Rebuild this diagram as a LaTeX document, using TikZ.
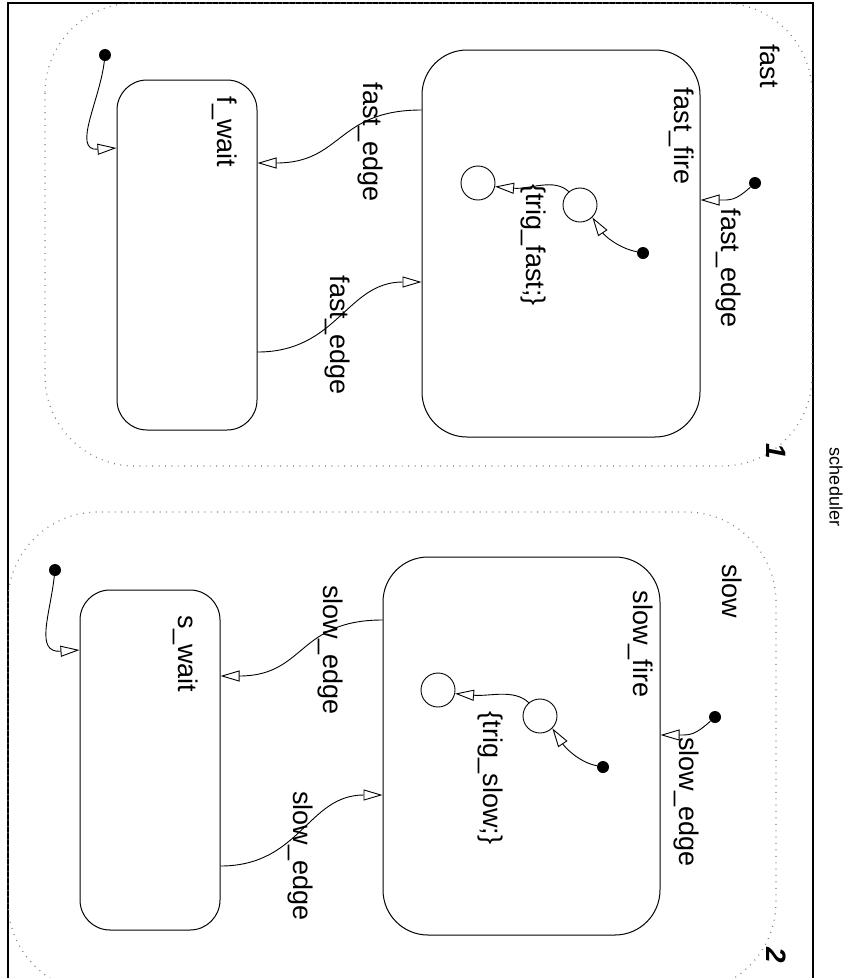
\documentclass[tikz,border=0pt]{standalone}
\usepackage{fontspec}
\setmainfont{Liberation Sans}
\usetikzlibrary{arrows.meta,calc}
\begin{document}
\begin{tikzpicture}[x=1pt,y=-1pt,
  frame/.style={line width=1.5pt},
  region/.style={draw=gray, line width=1.2pt, dash pattern=on 0.9pt off 5.5pt, rounded corners=90pt},
  statebox/.style={draw, line width=1pt, rectangle, inner sep=0pt},
  lbl/.style={rotate=-90, font=\fontsize{27}{32}\selectfont, inner sep=0pt},
  smallcirc/.style={draw, circle, line width=0.9pt, minimum size=34pt, inner sep=0pt},
  initdot/.style={fill, circle, minimum size=12pt, inner sep=0pt},
  conn/.style={line width=0.9pt, -{Triangle[open, length=19pt, width=11pt, line width=0.9pt]}},
  ]
\useasboundingbox (0,0) rectangle (850,978);
\clip (0,0) rectangle (850,978);
\fill[white] (0,0) rectangle (850,978);

% outer frame
\draw[frame] (8,1000) -- (8,3) -- (813,3) -- (813,1000);
\node[rotate=-90, font=\fontsize{18}{20}\selectfont, inner sep=0pt] (sched) at (836,487) {scheduler};

% regions
\draw[region] (45,3) rectangle (812,466);
\draw[region] (8,512) rectangle (776,992);
\node[rotate=-90, font=\bfseries\itshape\fontsize{28}{30}\selectfont, inner sep=0pt] (n1) at (776,451) {1};
\node[rotate=-90, font=\bfseries\itshape\fontsize{28}{30}\selectfont, inner sep=0pt] (n2) at (776,955) {2};

% ---------- fast ----------
\node[lbl] (lfast) at (770,66) {fast};
\node[statebox, rounded corners=45pt, minimum width=278pt, minimum height=387pt] (ff) at (561,243.5) {};
\node[statebox, rounded corners=30pt, minimum width=140pt, minimum height=350pt] (fw) at (187,255) {};
\node[lbl] (lff) at (682,136) {fast\_fire};
\node[lbl] (lfw) at (225,132) {f\_wait};

\node[initdot] (fi1) at (105,55) {};
\draw[conn] (fi1) .. controls +(-5,45) and +(-45,3) .. ([yshift=107pt]fw.west);

\draw[conn] ([yshift=133.5pt]ff.west) .. controls +(-85,0) and +(85,0) .. ([yshift=92pt]fw.east);
\node[lbl] (le1) at (370,142) {fast\_edge};

\draw[conn] ([yshift=-97pt]fw.east) .. controls +(80,0) and +(-75,0) .. ([yshift=-38.5pt]ff.west);
\node[lbl] (le2) at (337,335) {fast\_edge};

\node[initdot] (fi2) at (755,183) {};
\draw[conn] (fi2) .. controls +(-20,18) and +(30,0) .. ([yshift=43.5pt]ff.east);
\node[lbl] (le3) at (728,268) {fast\_edge};

\node[smallcirc] (fc1) at (478,183) {};
\node[smallcirc] (fc2) at (580,205) {};
\node[initdot] (fi3) at (643,253) {};
\draw[conn] (fi3) .. controls +(-25,-5) and +(12,18) .. (fc2.-45);
\draw[conn] (fc2.130) .. controls +(-15,-14) and +(35,3) .. (fc1.-12);
\node[lbl] (lt1) at (533,245) {\{trig\_fast;\}};

% ---------- slow ----------
\node[lbl] (lslow) at (732,591) {slow};
\node[statebox, rounded corners=45pt, minimum width=277pt, minimum height=378pt] (sf) at (521.5,746) {};
\node[statebox, rounded corners=30pt, minimum width=140pt, minimum height=340pt] (sw) at (150,760) {};
\node[lbl] (lsf) at (641,644) {slow\_fire};
\node[lbl] (lsw) at (186,654) {s\_wait};

\node[initdot] (si1) at (55,570) {};
\draw[conn] (si1) .. controls +(-5,45) and +(-45,3) .. ([yshift=110pt]sw.west);

\draw[conn] ([yshift=126pt]sf.west) .. controls +(-85,0) and +(85,0) .. ([yshift=84pt]sw.east);
\node[lbl] (se1) at (330,650) {slow\_edge};

\draw[conn] ([yshift=-106pt]sw.east) .. controls +(80,0) and +(-75,0) .. ([yshift=-49pt]sf.west);
\node[lbl] (se2) at (300,856) {slow\_edge};

\node[initdot] (si2) at (715,717) {};
\draw[conn] (si2) .. controls +(-20,18) and +(30,0) .. ([yshift=11pt]sf.east);
\node[lbl] (se3) at (686,802) {slow\_edge};

\node[smallcirc] (sc1) at (438,690) {};
\node[smallcirc] (sc2) at (540,716) {};
\node[initdot] (si3) at (603,767) {};
\draw[conn] (si3) .. controls +(-25,-5) and +(12,18) .. (sc2.-45);
\draw[conn] (sc2.130) .. controls +(-15,-14) and +(35,3) .. (sc1.-12);
\node[lbl] (lt2) at (490,778) {\{trig\_slow;\}};
\end{tikzpicture}
\end{document}
